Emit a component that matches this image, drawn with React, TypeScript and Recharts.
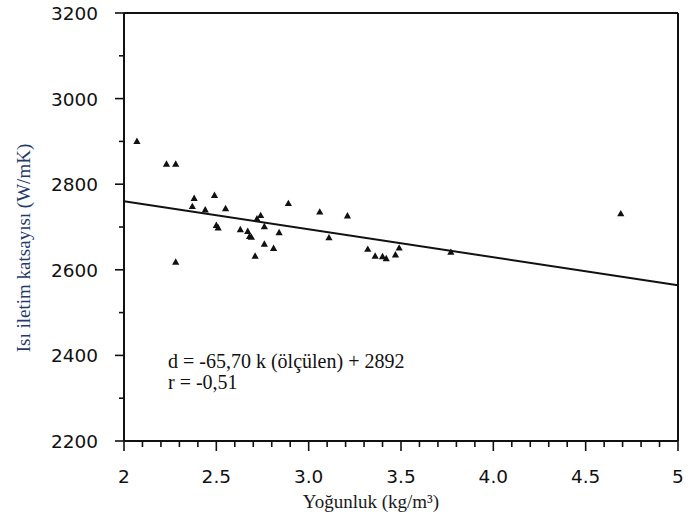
import React from "react";
import { ScatterChart, Scatter, XAxis, YAxis } from "recharts";

// Measured data (density kg/m3 vs thermal conductivity W/mK)
const densities = [
  2.07, 2.23, 2.28, 2.38, 2.37, 2.44, 2.49, 2.55, 2.5, 2.51, 2.63, 2.67, 2.68, 2.69,
  2.72, 2.74, 2.76, 2.84, 2.76, 2.81, 2.71, 2.28, 2.89, 3.06, 3.21, 3.11, 3.32, 3.36,
  3.4, 3.42, 3.47, 3.49, 3.77, 4.69,
];
const conductivities = [
  2900, 2847, 2847, 2767, 2748, 2740, 2774, 2743, 2704, 2698, 2694, 2690, 2678, 2676,
  2719, 2727, 2701, 2687, 2660, 2650, 2632, 2618, 2755, 2735, 2726, 2675, 2648, 2632,
  2631, 2626, 2635, 2651, 2641, 2731,
];

// Regression line end points
const regLineX = [2, 5];
const regLineY = [2760, 2564];

// Axis ticks
const xMinorTicks = [
  2.0, 2.1, 2.2, 2.3, 2.4, 2.5, 2.6, 2.7, 2.8, 2.9, 3.0, 3.1, 3.2, 3.3, 3.4, 3.5, 3.6,
  3.7, 3.8, 3.9, 4.0, 4.1, 4.2, 4.3, 4.4, 4.5, 4.6, 4.7, 4.8, 4.9, 5.0,
];
const xMajorTicks = [2, 2.5, 3, 3.5, 4, 4.5, 5];
const xTickLabels = ["2", "2.5", "3.0", "3.5", "4.0", "4.5", "5"];
const yMinorTicks = [2200, 2300, 2400, 2500, 2600, 2700, 2800, 2900, 3000, 3100, 3200];
const yMajorTicks = [2200, 2400, 2600, 2800, 3000, 3200];
const yTickLabels = ["2200", "2400", "2600", "2800", "3000", "3200"];

const xTitle = "Yoğunluk (kg/m³)";
const yTitle = "Isı iletim katsayısı (W/mK)";
const noteLine1 = "d = -65,70 k (ölçülen) + 2892";
const noteLine2 = "r = -0,51";

const points = densities.map((x, i) => ({ x, y: conductivities[i] }));
const regData = regLineX.map((x, i) => ({ x, y: regLineY[i] }));

const INK = "#111";
const TICK_FONT = "'DejaVu Sans', sans-serif";
const SERIF = "'Liberation Serif', 'Times New Roman', serif";

const majorIndex = (v: number, list: number[]) =>
  list.findIndex((t) => Math.abs(t - v) < 1e-6);

const renderBottomTick = (props: any) => {
  const { x, y, payload, index } = props;
  const idx = majorIndex(payload.value, xMajorTicks);
  const len = idx >= 0 ? 10 : 6;
  return (
    <g key={`b-${index}`}>
      <line x1={x} y1={y} x2={x} y2={y + len} stroke={INK} strokeWidth={1.6} />
      {idx >= 0 && (
        <text
          x={x}
          y={y + 42}
          textAnchor="middle"
          fontFamily={TICK_FONT}
          fontSize={18.5}
          fill={INK}
        >
          {xTickLabels[idx]}
        </text>
      )}
    </g>
  );
};

const renderTopTick = (props: any) => {
  const { x, y, payload, index } = props;
  const idx = majorIndex(payload.value, xMajorTicks);
  const len = idx >= 0 ? 10 : 5;
  return (
    <g key={`t-${index}`}>
      <line x1={x} y1={y} x2={x} y2={y - len} stroke={INK} strokeWidth={1.6} />
    </g>
  );
};

const renderLeftTick = (props: any) => {
  const { x, y, payload, index } = props;
  const idx = majorIndex(payload.value, yMajorTicks);
  const len = idx >= 0 ? 9 : 5;
  return (
    <g key={`l-${index}`}>
      <line x1={x} y1={y} x2={x - len} y2={y} stroke={INK} strokeWidth={1.6} />
      {idx >= 0 && (
        <text
          x={x - 26}
          y={y + 7}
          textAnchor="end"
          fontFamily={TICK_FONT}
          fontSize={18.5}
          fill={INK}
        >
          {yTickLabels[idx]}
        </text>
      )}
    </g>
  );
};

const renderRightTick = (props: any) => {
  const { x, y, payload, index } = props;
  const idx = majorIndex(payload.value, yMajorTicks);
  const len = idx >= 0 ? 9 : 5;
  return (
    <g key={`r-${index}`}>
      <line x1={x} y1={y} x2={x + len} y2={y} stroke={INK} strokeWidth={1.6} />
    </g>
  );
};

const Triangle = (props: any) => {
  const { cx, cy } = props;
  if (cx == null || cy == null) return <g />;
  return (
    <polygon
      points={`${cx},${cy - 3.8} ${cx - 3.6},${cy + 2.6} ${cx + 3.6},${cy + 2.6}`}
      fill={INK}
    />
  );
};

const axisLine = { stroke: INK, strokeWidth: 2 };

export default function App() {
  return (
    <div style={{ position: "absolute", left: 0, top: 0, width: 689, height: 522, background: "#fff" }}>
      <ScatterChart width={689} height={522} margin={{ top: 3, right: 1, bottom: 21, left: 24 }}>
        <XAxis
          xAxisId="b"
          type="number"
          dataKey="x"
          orientation="bottom"
          domain={[2, 5]}
          ticks={xMinorTicks}
          interval={0}
          height={60}
          axisLine={axisLine}
          tickLine={false}
          tickSize={0}
          tickMargin={0}
          tick={renderBottomTick}
        />
        <XAxis
          xAxisId="t"
          type="number"
          dataKey="x"
          orientation="top"
          domain={[2, 5]}
          ticks={xMinorTicks}
          interval={0}
          height={10}
          axisLine={axisLine}
          tickLine={false}
          tickSize={0}
          tickMargin={0}
          tick={renderTopTick}
        />
        <YAxis
          yAxisId="l"
          type="number"
          dataKey="y"
          orientation="left"
          domain={[2200, 3200]}
          ticks={yMinorTicks}
          interval={0}
          width={100}
          axisLine={axisLine}
          tickLine={false}
          tickSize={0}
          tickMargin={0}
          tick={renderLeftTick}
        />
        <YAxis
          yAxisId="r"
          type="number"
          dataKey="y"
          orientation="right"
          domain={[2200, 3200]}
          ticks={yMinorTicks}
          interval={0}
          width={10}
          axisLine={axisLine}
          tickLine={false}
          tickSize={0}
          tickMargin={0}
          tick={renderRightTick}
        />
        <Scatter
          data={regData}
          xAxisId="b"
          yAxisId="l"
          line={{ stroke: INK, strokeWidth: 2 }}
          shape={() => <g />}
          isAnimationActive={false}
        />
        <Scatter
          data={points}
          xAxisId="b"
          yAxisId="l"
          shape={<Triangle />}
          isAnimationActive={false}
        />
        <text x={168} y={368} fontFamily={SERIF} fontSize={20} fill={INK}>
          {noteLine1}
        </text>
        <text x={168} y={389} fontFamily={SERIF} fontSize={20} fill={INK}>
          {noteLine2}
        </text>
        <text
          x={371}
          y={508}
          textAnchor="middle"
          fontFamily={SERIF}
          fontSize={19}
          fill="#1a1a1a"
        >
          {xTitle}
        </text>
        <text
          x={30}
          y={248}
          textAnchor="middle"
          transform="rotate(-90, 30, 248)"
          fontFamily={SERIF}
          fontSize={19}
          fill="#1f3a6b"
        >
          {yTitle}
        </text>
      </ScatterChart>
    </div>
  );
}
